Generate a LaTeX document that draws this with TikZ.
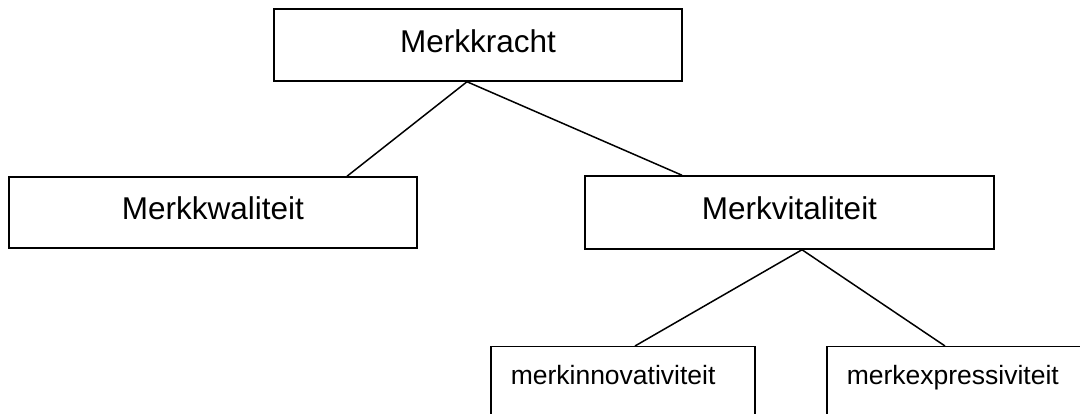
\documentclass[tikz,border=0pt]{standalone}
\usepackage{fontspec}
\setmainfont{Liberation Sans}
\usetikzlibrary{calc}
\begin{document}
\begin{tikzpicture}[x=1pt,y=-1pt,
  bigbox/.style={draw, line width=1.5pt, inner sep=0pt, text height=23pt, text depth=8pt,
    font=\fontsize{31.5}{36}\selectfont},
  smallbox/.style={draw, line width=1.5pt, anchor=north west, inner xsep=20pt, inner ysep=16pt,
    text height=22pt, text depth=50pt, align=left, font=\fontsize{26.5}{30}\selectfont},
  link/.style={line width=1.5pt}]
\clip (0,0) rectangle (1080,414);
\node[bigbox, minimum width=408pt, minimum height=72pt] (top) at (478,45) {Merkkracht};
\node[bigbox, minimum width=408pt, minimum height=71pt] (kw) at (213,212.5) {Merkkwaliteit};
\node[bigbox, minimum width=409pt, minimum height=73pt] (vit) at (789.5,212.5) {Merkvitaliteit};
\node[smallbox, text width=224pt] (inn) at (490,346) {merkinnovativiteit};
\node[smallbox, text width=300pt] (exp) at (826,346) {merkexpressiviteit};
\draw[link] ([xshift=-11pt]top.south) -- ([xshift=134pt]kw.north);
\draw[link] ([xshift=-11pt]top.south) -- ([xshift=-107.5pt]vit.north);
\draw[link] ([xshift=12.5pt]vit.south) -- ([xshift=145pt]inn.north west);
\draw[link] ([xshift=12.5pt]vit.south) -- ([xshift=119pt]exp.north west);
\end{tikzpicture}
\end{document}
